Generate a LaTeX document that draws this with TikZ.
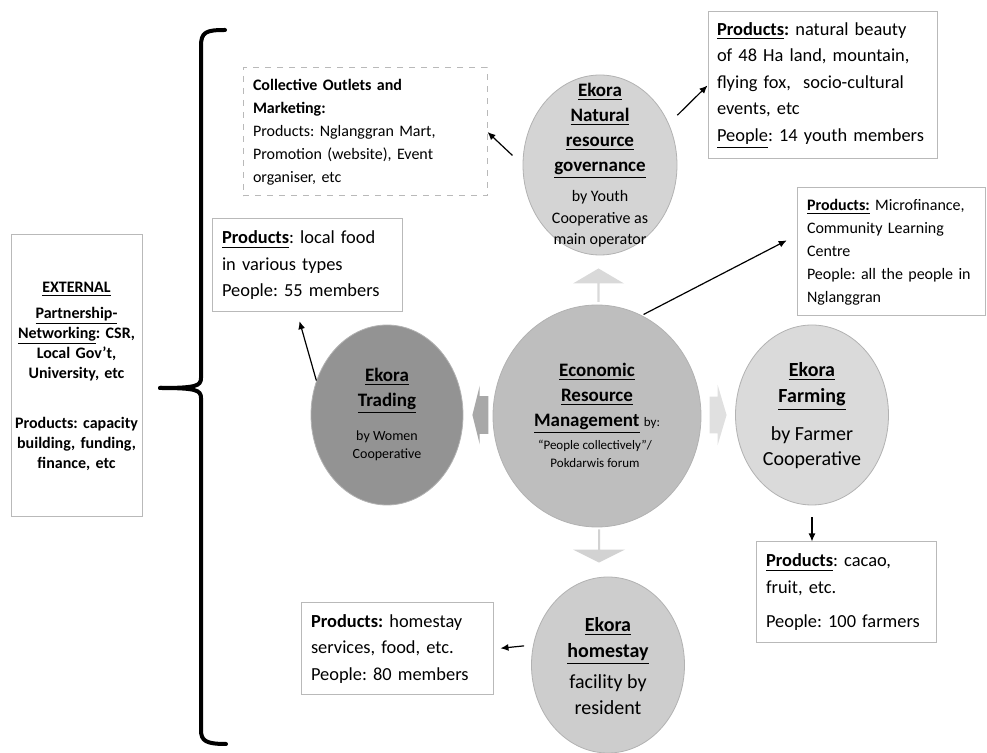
\documentclass[tikz,border=0pt]{standalone}
\usepackage{fontspec}
\setmainfont{Carlito}
\usepackage{tikz}
\usetikzlibrary{arrows.meta, positioning, shapes.geometric, shapes.arrows}

\definecolor{govfill}{HTML}{D4D4D4}
\definecolor{ecofill}{HTML}{BEBEBE}
\definecolor{tradefill}{HTML}{939393}
\definecolor{farmfill}{HTML}{DADADA}
\definecolor{homefill}{HTML}{CDCDCD}
\definecolor{blkup}{HTML}{D9D9D9}
\definecolor{blkleft}{HTML}{A8A8A8}
\definecolor{blkright}{HTML}{E0E0E0}
\definecolor{blkdown}{HTML}{D2D2D2}

\newcommand{\boxfont}{\fontsize{9.2}{13.25}\selectfont}
\newcommand{\smallboxfont}{\fontsize{8}{11.5}\selectfont}
\newcommand{\extfont}{\fontsize{8}{10}\selectfont\bfseries}
\newcommand{\titlefont}{\fontsize{9.5}{12.5}\selectfont\bfseries}
\frenchspacing
\hyphenpenalty=10000
\exhyphenpenalty=10000

\begin{document}
\begin{tikzpicture}[x=0.5pt, y=-0.5pt,
  ekora/.style={ellipse, draw=gray!60, line width=0.4pt, inner sep=0pt},
  etitle/.style={align=center, inner sep=0pt, font=\titlefont},
  esub/.style={align=center, inner sep=0pt},
  info/.style={draw=gray!55, line width=0.5pt, inner xsep=5pt, inner ysep=2pt, align=left},
  arr/.style={-{Latex[length=4pt,width=3.5pt]}, line width=0.6pt},
  blk/.style={single arrow, draw=none, inner xsep=0pt},
  brace/.style={line width=2pt, line cap=round}
]
\useasboundingbox (0,0) rectangle (987,753);

% outer partners
\node[info, align=center, font=\extfont, inner xsep=2pt, text width=61.5pt, minimum width=65.5pt, minimum height=141pt] (ext) at (76.5,376)
  {\underline{EXTERNAL}\\[3pt]\underline{Partnership-}\\\underline{Networking}: CSR,\\Local Gov’t,\\University, etc\\[15pt]Products: capacity\\building, funding,\\finance, etc};
\draw[brace] (225,30) .. controls (206,30) and (201,32) .. (201,46) -- (201,378) .. controls (201,386) and (196,388) .. (160,388);
\draw[brace] (226,744) .. controls (206,744) and (201,741) .. (201,730) -- (201,398) .. controls (201,390) and (196,388) .. (160,388);

% ellipses
\node[ekora, fill=govfill, minimum width=77pt, minimum height=90pt] (gov) at (600,165) {};
\node[ekora, fill=ecofill, minimum width=104pt, minimum height=111pt] (eco) at (597,416) {};
\node[ekora, fill=tradefill, minimum width=76pt, minimum height=90pt] (trade) at (387,415) {};
\node[ekora, fill=farmfill, minimum width=76.5pt, minimum height=90pt] (farm) at (812,415) {};
\node[ekora, fill=homefill, minimum width=76.5pt, minimum height=88pt] (home) at (608,665) {};

\node[etitle] (govt) at (600,131) {\underline{Ekora}\\\underline{Natural}\\\underline{resource}\\\underline{governance}};
\node[esub, font=\fontsize{8}{10.75}\selectfont] (govs) at (600,219) {by Youth\\Cooperative as\\main operator};
\node[etitle] (ecot) at (597,398) {\underline{Economic}\\\underline{Resource}\\\underline{Management} {\mdseries\fontsize{6.5}{9}\selectfont by:}};
\node[esub, font=\fontsize{6.5}{9}\selectfont] (ecos) at (595,454) {“People collectively”/\\Pokdarwis forum};
\node[etitle] (tradet) at (387,390.5) {\underline{Ekora}\\\underline{Trading}};
\node[esub, font=\fontsize{7}{9}\selectfont] (trades) at (387,446) {by Women\\Cooperative};
\node[etitle, font=\fontsize{10}{13}\selectfont\bfseries] (farmt) at (812,386.5) {\underline{Ekora}\\\underline{Farming}};
\node[esub, font=\fontsize{10}{12.5}\selectfont] (farms) at (812,447.5) {by Farmer\\Cooperative};
\node[etitle, font=\fontsize{10}{13}\selectfont\bfseries] (homet) at (608,641.5) {\underline{Ekora}\\\underline{homestay}};
\node[esub, font=\fontsize{10}{13}\selectfont] (homes) at (608,695) {facility by\\resident};

% block arrows from the centre
\node[blk, fill=blkup, inner ysep=8pt, minimum height=13.5pt, minimum width=25.5pt, single arrow head extend=4.75pt, single arrow tip angle=119, shape border rotate=90, anchor=tip] (aup) at (598.5,268) {};
\node[blk, fill=blkdown, inner ysep=8pt, minimum height=13pt, minimum width=26pt, single arrow head extend=5pt, single arrow tip angle=127, shape border rotate=270, anchor=tip] (adown) at (599,563) {};
\node[blk, fill=blkleft, inner ysep=9.25pt, minimum height=8pt, minimum width=29pt, single arrow head extend=5.25pt, single arrow tip angle=152, shape border rotate=180, anchor=tip] (aleft) at (472,415) {};
\node[blk, fill=blkright, inner ysep=9pt, minimum height=8.5pt, minimum width=30pt, single arrow head extend=6pt, single arrow tip angle=147, anchor=tip] (aright) at (727,415) {};

% product boxes
\node[info, dashed, font=\smallboxfont, text width=112pt, minimum width=122pt, minimum height=64pt] (coll) at (365,132)
  {\textbf{Collective Outlets and}\\\textbf{Marketing:}\\Products: Nglanggran Mart,\\Promotion (website), Event\\organiser, etc};
\node[info, font=\boxfont, inner xsep=4.5pt, text width=105.5pt, minimum width=114.5pt, minimum height=73.5pt] (beauty) at (822.5,85.5)
  {\textbf{\underline{Products}:} natural beauty\\of 48 Ha land, mountain,\\flying fox,\ \ socio-cultural\\events, etc\\\underline{People}: 14 youth members};
\node[info, font=\smallboxfont, text width=84pt, minimum width=94pt, minimum height=64pt] (micro) at (891,252)
  {\textbf{\underline{Products:}} Microfinance,\\Community Learning\\Centre\\People: all the people in\\Nglanggran};
\node[info, font=\boxfont, text width=85pt, minimum width=95pt, minimum height=46.5pt] (lfood) at (307,265.5)
  {\textbf{\underline{Products}}: local food\\in various types\\People: 55 members};
\node[info, font=\boxfont, text width=80pt, minimum width=90pt, minimum height=50.5pt] (fprod) at (846,592.5)
  {\textbf{\underline{Products}}: cacao,\\fruit, etc.\\[4pt]People: 100 farmers};
\node[info, font=\boxfont, text width=86pt, minimum width=96pt, minimum height=46pt] (hprod) at (397,649)
  {\textbf{Products:} homestay\\services, food, etc.\\People: 80 members};

% arrows to the products
\draw[arr, shorten <=7pt] (gov.west) -- (coll.east);
\draw[arr, shorten <=6pt] (gov.31) -- (beauty.west);
\draw[arr, shorten <=1pt, shorten >=5.5pt] (eco.66) -- (micro.170);
\draw[arr, shorten >=4.5pt] (trade.154) -- (lfood.258);
\draw[arr, shorten <=6pt] (farm.south) -- (farm.south |- fprod.north);
\draw[arr, shorten <=4.5pt, shorten >=3.5pt] (home.165) -- (hprod.east);
\end{tikzpicture}
\end{document}
